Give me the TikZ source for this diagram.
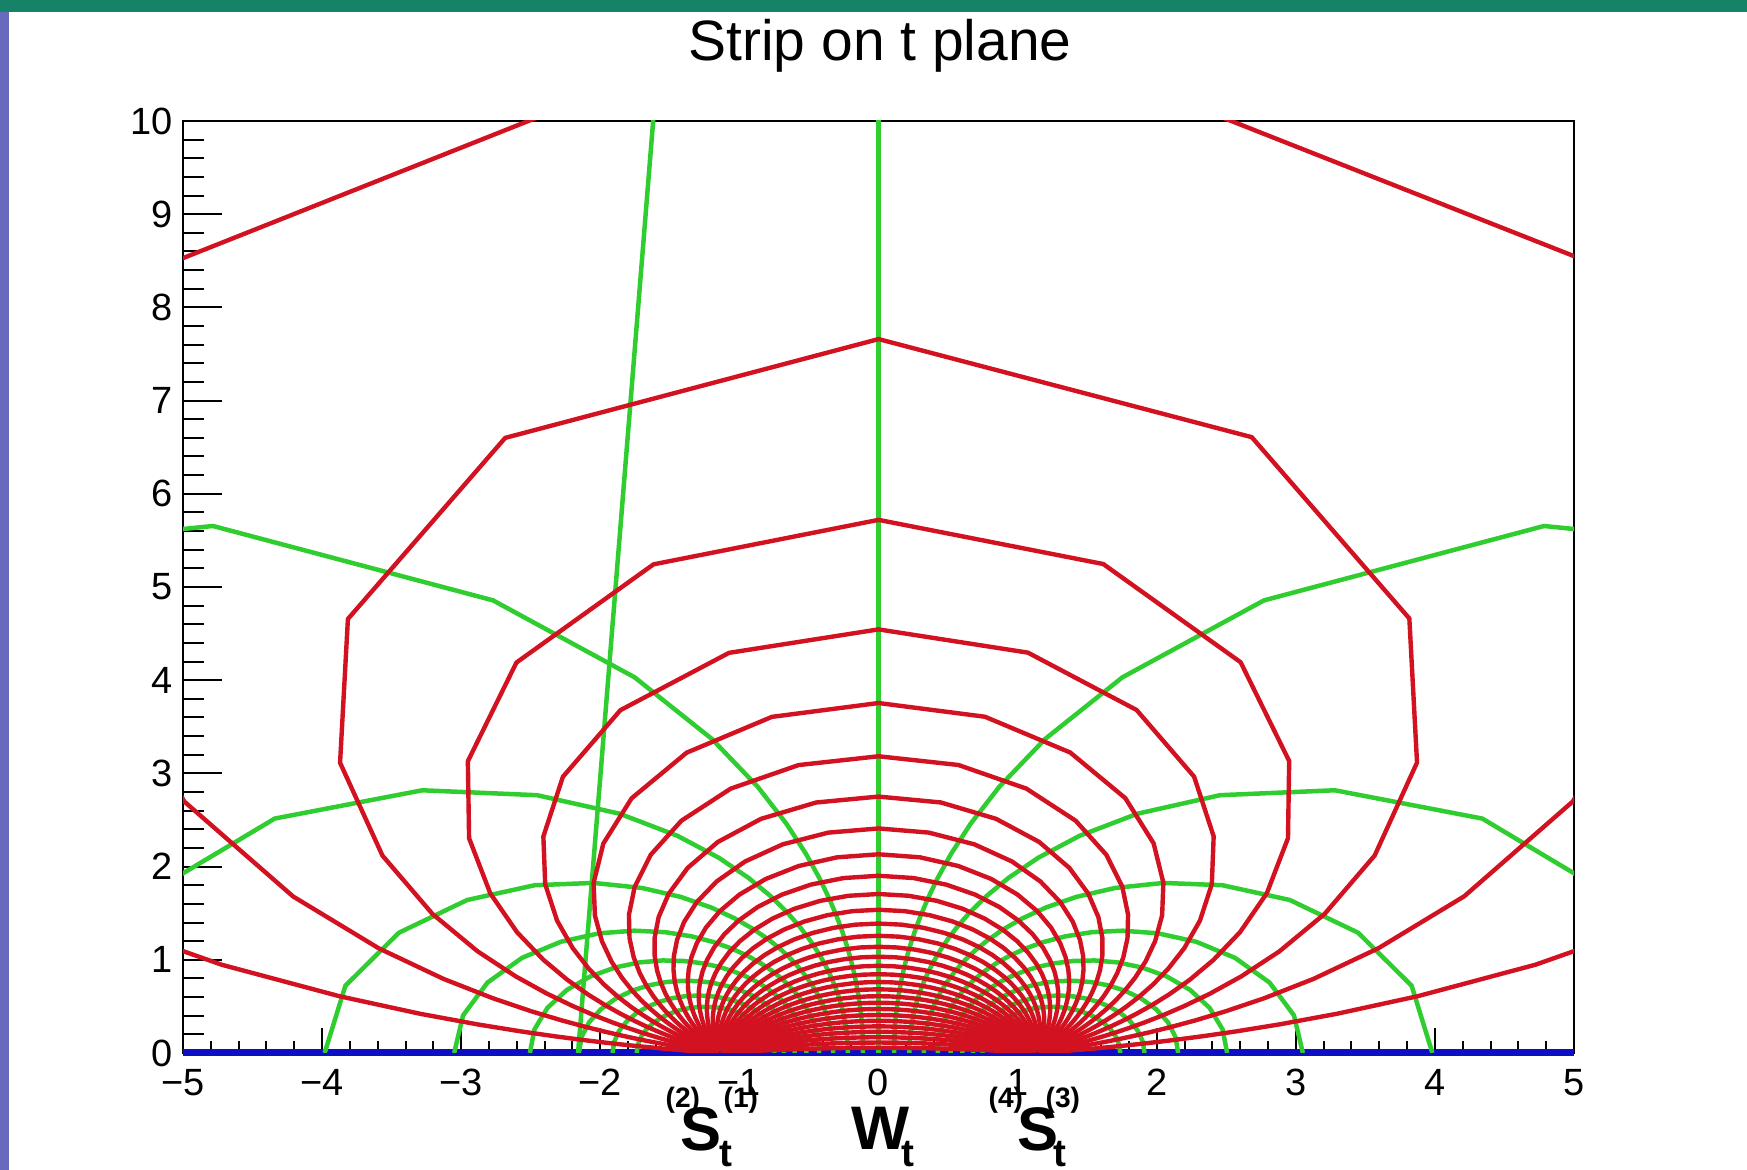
\documentclass[tikz,border=0pt]{standalone}
\usepackage{fontspec}
\setmainfont{Liberation Sans}
\usepackage{tikz}
\usetikzlibrary{positioning}

\definecolor{slidegreen}{RGB}{22,131,104}
\definecolor{slidepurple}{RGB}{104,106,190}
\definecolor{vred}{RGB}{210,18,32}
\definecolor{ugreen}{RGB}{48,205,48}
\definecolor{axblue}{RGB}{14,14,196}

\tikzset{vline/.style = {vred, line width=0.44mm, line join=round}}
\tikzset{uline/.style = {ugreen, line width=0.45mm, line join=round}}
\tikzset{tickmark/.style = {black, line width=0.2mm}}
\tikzset{numlbl/.style = {inner sep=0, font=\fontsize{10.8}{13}\selectfont}}
\tikzset{biglbl/.style = {inner sep=0, anchor=base west, font=\bfseries\fontsize{17.5}{20}\selectfont}}
\tikzset{sublbl/.style = {inner sep=0, anchor=base west, font=\bfseries\fontsize{11}{12}\selectfont}}
\tikzset{idxlbl/.style = {inner sep=0, anchor=base west, font=\bfseries\fontsize{8}{9}\selectfont}}

\begin{document}
\begin{tikzpicture}
  \useasboundingbox (0,0) rectangle (17.47,11.70);
  \fill[slidegreen] (0,11.58) rectangle (17.47,11.70);
  \fill[slidepurple] (0,0) rectangle (0.09,11.58);

  \node[inner sep=0, anchor=base, font=\fontsize{16.2}{19}\selectfont] (title) at (8.80,11.09) {Strip on t plane};

  \begin{scope}[shift={(8.785,1.17)}, x=1.391cm, y=0.932cm]
    % frame and axes
    \draw[line width=0.25mm] (-5,0) rectangle (5,10);
    \foreach \i in {1,...,49} \draw[tickmark] (-5,\i/5) -- +(0.21cm,0);
    \foreach \i in {0,...,10} {
      \draw[tickmark] (-5,\i) -- +(0.39cm,0);
      \node[numlbl, anchor=east, xshift=-1mm] (ylab\i) at (-5,\i) {\i};
    }
    \foreach \i in {-24,...,24} \draw[tickmark] (\i/5,0) -- +(0,0.12cm);
    \foreach \i in {-5,...,5} {
      \draw[tickmark] (\i,0) -- +(0,0.25cm);
      \node[numlbl, anchor=base] (xlab\i) at (\i,-0.451) {\ifnum\i<0 −\the\numexpr-\i\relax\else\i\fi};
    }

    \draw[axblue, line width=0.7mm] (-5,0) -- (5,0);

    \begin{scope}
      \clip (-5,0) rectangle (5,10);
      % lines u = const
      \foreach \j in {1,...,8} {
        \pgfmathsetmacro\sh{1.14*sinh(\j*pi/16)}
        \pgfmathsetmacro\ch{cosh(\j*pi/16)}
        \draw[uline] plot[domain=0:182.25, samples=28, variable=\vw]
          ({\sh/(\ch-cos(\vw))}, {1.14*sin(\vw)/(\ch-cos(\vw))});
        \draw[uline] plot[domain=0:182.25, samples=28, variable=\vw]
          ({-\sh/(\ch-cos(\vw))}, {1.14*sin(\vw)/(\ch-cos(\vw))});
      }
      \draw[uline] (0,0) -- (0,10.5);
      \draw[uline] (-2.16,0) -- (-1.566,11);
      % lines v = const
      \foreach \k in {1,...,31} {
        \pgfmathsetmacro\cv{cos(\k*5.625)}
        \pgfmathsetmacro\sv{1.14*sin(\k*5.625)}
        \draw[vline] plot[domain=-5.301:5.301, samples=91, variable=\uw]
          ({1.14*sinh(\uw)/(cosh(\uw)-(\cv))}, {\sv/(cosh(\uw)-(\cv))});
      }
    \end{scope}
  \end{scope}

  % labels under the axis
  \node[idxlbl] (s12pre) at (6.65,0.62) {(2)};
  \node[biglbl] (s12) at (6.80,0.19) {S};
  \node[sublbl] (s12sub) at (7.19,0.03) {t};
  \node[idxlbl] (s12sup) at (7.23,0.62) {(1)};
  \node[biglbl] (wt) at (8.51,0.20) {W};
  \node[sublbl] (wtsub) at (9.01,0.03) {t};
  \node[idxlbl] (s34pre) at (9.88,0.62) {(4)};
  \node[biglbl] (s34) at (10.17,0.19) {S};
  \node[sublbl] (s34sub) at (10.53,0.03) {t};
  \node[idxlbl] (s34sup) at (10.45,0.62) {(3)};
\end{tikzpicture}
\end{document}
